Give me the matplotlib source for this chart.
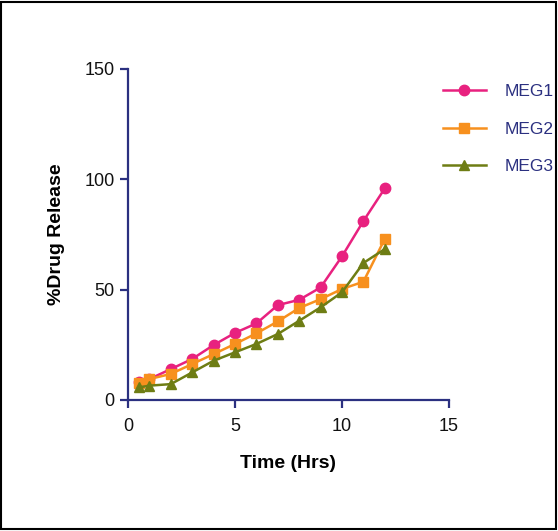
import matplotlib
matplotlib.use("Agg")
import matplotlib.pyplot as plt
from matplotlib.patches import Rectangle

time_hrs = [0.5, 1, 2, 3, 4, 5, 6, 7, 8, 9, 10, 11, 12]
meg1 = [8.0, 9.5, 14.0, 18.6, 24.9, 30.4, 34.7, 43.0, 45.4, 51.0, 65.1, 81.1, 95.9]
meg2 = [7.7, 9.5, 11.8, 16.3, 20.8, 25.4, 30.2, 35.6, 41.7, 45.7, 50.3, 53.6, 73.0]
meg3 = [5.7, 6.5, 7.2, 12.5, 17.8, 21.6, 25.4, 29.9, 35.9, 42.0, 48.8, 62.1, 68.4]

x_ticks = [0, 5, 10, 15]
y_ticks = [0, 50, 100, 150]

AXIS_COLOR = "#2b3080"

plt.rcParams["font.family"] = ["Liberation Sans", "DejaVu Sans"]

fig = plt.figure(figsize=(5.58, 5.31), dpi=100)
ax = fig.add_axes([128 / 558, 1 - 400 / 531, 321 / 558, 331 / 531])

series = [
    ("MEG1", meg1, "#e8217f", "o"),
    ("MEG2", meg2, "#f7901e", "s"),
    ("MEG3", meg3, "#6e7d14", "^"),
]
for name, vals, color, marker in series:
    ax.plot(time_hrs, vals, color=color, marker=marker, markersize=7.5,
            linewidth=1.8, label=name, clip_on=False)

ax.set_xlim(0, 15)
ax.set_ylim(0, 150)
ax.set_xticks(x_ticks)
ax.set_yticks(y_ticks)
for side in ["top", "right"]:
    ax.spines[side].set_visible(False)
for side in ["left", "bottom"]:
    ax.spines[side].set_color(AXIS_COLOR)
    ax.spines[side].set_linewidth(1.6)
ax.tick_params(colors=AXIS_COLOR, width=1.6, length=6, direction="out",
               labelcolor="#111111", labelsize=13)
ax.tick_params(axis="x", pad=7)

ax.set_xlabel("Time (Hrs)", fontsize=14, fontweight="bold", labelpad=14)
ax.set_ylabel("%Drug Release", fontsize=14, fontweight="bold", labelpad=14)

leg = ax.legend(loc="upper left", bbox_to_anchor=(0.98, 0.955), frameon=False,
                fontsize=12.5, handlelength=2.5, labelspacing=1.3,
                handletextpad=1.1, borderaxespad=0, borderpad=0)
for t in leg.get_texts():
    t.set_color(AXIS_COLOR)

fig.patches.append(Rectangle((0.002, 0.004), 0.995, 0.993, transform=fig.transFigure,
                             fill=False, edgecolor="black", linewidth=1.5))

fig.savefig("out.png", dpi=100)
